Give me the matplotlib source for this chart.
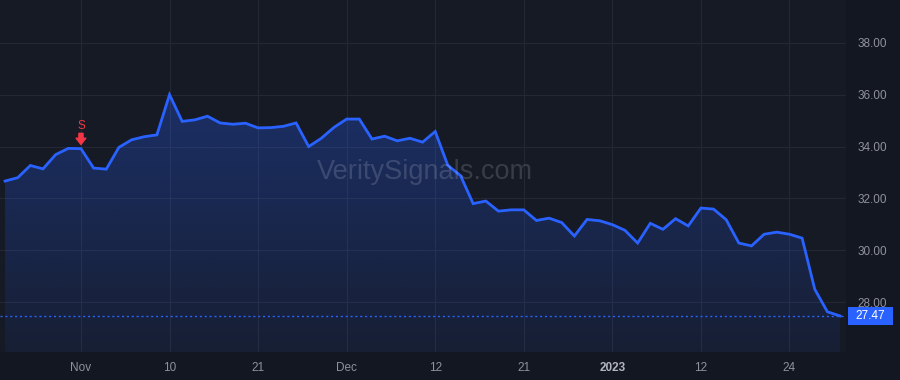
import numpy as np
import matplotlib.pyplot as plt
from matplotlib.colors import to_rgb
from matplotlib.patches import Rectangle
from matplotlib.transforms import blended_transform_factory

# daily closes, Oct 24 2022 -> Jan 30 2023 (trading days)
prices = [32.67, 32.80, 33.27, 33.14, 33.69, 33.93, 33.92, 33.17, 33.13, 33.97,
          34.26, 34.38, 34.45, 36.00, 34.97, 35.03, 35.17, 34.91, 34.86, 34.90,
          34.72, 34.73, 34.78, 34.91, 34.00, 34.32, 34.74, 35.06, 35.06, 34.29,
          34.40, 34.22, 34.32, 34.17, 34.58, 33.27, 32.88, 31.80, 31.90, 31.51,
          31.56, 31.56, 31.15, 31.24, 31.07, 30.55, 31.19, 31.14, 30.99, 30.77,
          30.28, 31.04, 30.81, 31.22, 30.94, 31.63, 31.59, 31.18, 30.28, 30.17,
          30.62, 30.70, 30.62, 30.47, 28.50, 27.63, 27.47]
tick_pos = [6, 13, 20, 27, 34, 41, 48, 55, 62]
tick_labels = ['Nov', '10', '21', 'Dec', '12', '21', '2023', '12', '24']
y_ticks = [28, 30, 32, 34, 36, 38]
signal_idx = 6
signal_label = 'S'
watermark = 'VeritySignals.com'

BG = '#131722'
PANE = '#161A25'
GRID = '#252834'
LINE = '#2962FF'
RED = '#F23645'
TXT = '#8F929B'

plt.rcParams['font.family'] = ['Liberation Sans', 'DejaVu Sans']

fig = plt.figure(figsize=(9, 3.8), dpi=100, facecolor=BG)
ax = fig.add_axes([0, 28 / 380, 846 / 900, 352 / 380])
ax.set_facecolor(PANE)

x = np.arange(len(prices))
ylo, yhi = 26.08, 39.65

# gradient area under the line
area = ax.fill_between(x, prices, ylo, color='none', lw=0)
grad = np.zeros((256, 1, 4))
grad[..., :3] = to_rgb(LINE)
grad[..., 3] = np.linspace(0.30, 0.07, 256).reshape(-1, 1)
img = ax.imshow(grad, extent=[x[0], x[-1], ylo, max(prices)], aspect='auto',
                origin='upper', zorder=1)
img.set_clip_path(area.get_paths()[0], transform=ax.transData)

ax.plot(x, prices, color=LINE, lw=2, zorder=3, solid_joinstyle='miter')

last = prices[-1]
ax.axhline(last, color=LINE, lw=1, linestyle=(0, (1.5, 2)), zorder=2)

ax.set_xlim(-0.4, len(prices) - 1 + 0.47)
ax.set_ylim(ylo, yhi)

ax.set_xticks(tick_pos)
ax.set_xticklabels(tick_labels)
ax.set_yticks(y_ticks)
ax.set_yticklabels([f'{v:.2f}' for v in y_ticks])
ax.yaxis.tick_right()
ax.tick_params(axis='y', length=0, pad=8, labelsize=8.5, labelcolor=TXT)
ax.tick_params(axis='x', length=0, pad=7, labelsize=8.5, labelcolor=TXT)
lbl = ax.get_xticklabels()[tick_labels.index('2023')]
lbl.set_fontweight('bold')
lbl.set_color('#B2B5BE')
ax.grid(True, color=GRID, lw=0.8)
ax.set_axisbelow(True)
for s in ax.spines.values():
    s.set_visible(False)

# last price tag
tr = blended_transform_factory(ax.transAxes, ax.transData)
ax.add_patch(Rectangle((1.002, last - 0.36), 0.053, 0.72, transform=tr,
                       facecolor=LINE, edgecolor='none', clip_on=False, zorder=5))
ax.text(1.0285, last, f'{last:.2f}', transform=tr, ha='center', va='center',
        color='white', fontsize=8.5, zorder=6, clip_on=False)

# sell signal
ax.annotate('', xy=(signal_idx, prices[signal_idx]), xytext=(0, 11),
            textcoords='offset points',
            arrowprops=dict(arrowstyle='simple,head_width=0.7,head_length=0.45,tail_width=0.3',
                            color=RED, shrinkA=0, shrinkB=3), zorder=6)
ax.annotate(signal_label, xy=(signal_idx, prices[signal_idx]), xytext=(0, 16.5),
            textcoords='offset points', ha='center', va='center',
            color=RED, fontsize=8.5, zorder=6)

ax.text(0.502, 0.511, watermark, transform=ax.transAxes, ha='center', va='center',
        fontsize=19.5, color='white', alpha=0.15, zorder=4)

fig.savefig('out.png', dpi=100, facecolor=BG)
